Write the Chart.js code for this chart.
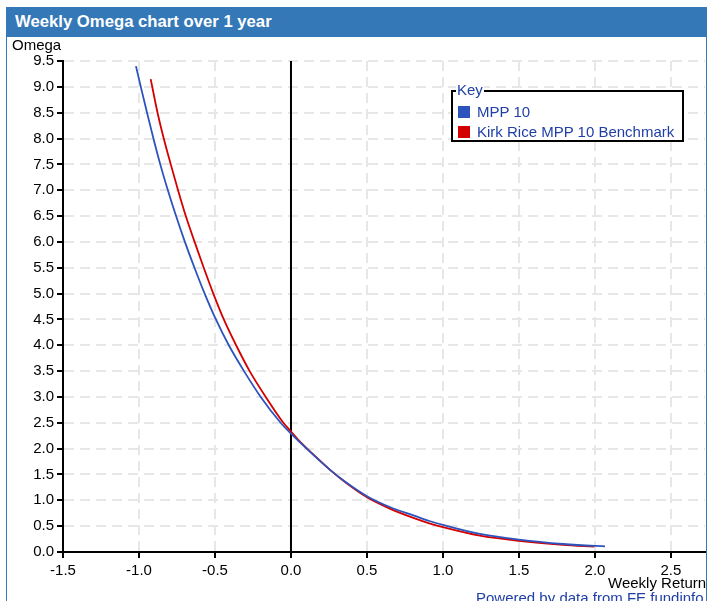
<!DOCTYPE html>
<html>
<head>
<meta charset="utf-8">
<script src="https://cdn.jsdelivr.net/npm/chart.js@4.4.0/dist/chart.umd.min.js"></script>
<style>
    body { margin: 0; background: #fff; width: 715px; height: 601px; overflow: hidden; position: relative; font-family: "Liberation Sans", Arial, sans-serif; }
    #frame { position: absolute; left: 6px; top: 7px; width: 699px; height: 600px; border: 1px solid #3478b7; overflow: hidden; }
    #titlebar { position: absolute; left: 0; top: 0; width: 699px; height: 29px; background: #3478b7; color: #fff; font-weight: bold; font-size: 16.7px; line-height: 28px; padding-left: 8px; box-sizing: border-box; }
    #omegaChart { position: absolute; left: 0; top: 29px; }
    .lbl { position: absolute; font-size: 15px; line-height: 16px; color: #000; white-space: nowrap; }
    #powered { color: #1f3fa6; }
    #key { position: absolute; left: 444px; top: 82px; width: 233px; height: 52px; border: 2px solid #000; box-sizing: border-box; background: #fff; }
    #key .cap { position: absolute; left: 3px; top: -10px; background: #fff; padding: 0 1px; font-size: 15px; line-height: 16px; color: #1f3fa6; }
    #key .row { position: absolute; left: 5px; font-size: 15px; line-height: 16px; color: #1f3fa6; white-space: nowrap; }
    #key .sw { display: inline-block; width: 12px; height: 12px; margin-right: 7px; vertical-align: -1px; }
</style>
</head>
<body>
<div id="frame">
    <div id="titlebar">Weekly Omega chart over 1 year</div>
    <canvas id="omegaChart" width="699" height="564"></canvas>
    <div class="lbl" style="left:5px;top:29px;">Omega</div>
    <div class="lbl" style="left:601px;top:567px;">Weekly Return</div>
    <div class="lbl" id="powered" style="left:469px;top:582px;">Powered by data from FE fundinfo</div>
    <div id="key"><span class="cap">Key</span></div>
</div>
<script>
const seriesNames = ['MPP 10', 'Kirk Rice MPP 10 Benchmark'];
const seriesColors = ['#2d54bd', '#d40000'];

// MPP 10 (weekly return %, omega)
const mppX = [-1.02, -0.988, -0.947, -0.905, -0.86, -0.81, -0.756, -0.698, -0.635, -0.568, -0.494, -0.409, -0.309, -0.199, -0.068, 0, 0.147, 0.257, 0.366, 0.5, 0.65, 0.805, 0.91, 1.0, 1.243, 1.5, 1.79, 2.0, 2.066];
const mppY = [9.40, 9.0, 8.5, 8.0, 7.5, 7.0, 6.5, 6.0, 5.5, 5.0, 4.5, 4.0, 3.5, 3.0, 2.5, 2.29, 1.88, 1.59, 1.34, 1.08, 0.87, 0.71, 0.60, 0.525, 0.35, 0.24, 0.155, 0.117, 0.11];

// Kirk Rice MPP 10 Benchmark
const benchX = [-0.923, -0.878, -0.837, -0.791, -0.743, -0.692, -0.634, -0.574, -0.511, -0.442, -0.361, -0.272, -0.166, -0.05, 0, 0.048, 0.15, 0.257, 0.366, 0.5, 0.65, 0.805, 0.91, 1.0, 1.243, 1.5, 1.79, 1.995];
const benchY = [9.15, 8.5, 8.0, 7.5, 7.0, 6.5, 6.0, 5.5, 5.0, 4.5, 4.0, 3.5, 3.0, 2.5, 2.33, 2.17, 1.88, 1.59, 1.33, 1.06, 0.84, 0.66, 0.555, 0.48, 0.315, 0.215, 0.14, 0.105];

const xTicks = [-1.5, -1.0, -0.5, 0.0, 0.5, 1.0, 1.5, 2.0, 2.5];
const yTicks = [0.0, 0.5, 1.0, 1.5, 2.0, 2.5, 3.0, 3.5, 4.0, 4.5, 5.0, 5.5, 6.0, 6.5, 7.0, 7.5, 8.0, 8.5, 9.0, 9.5];

function toPoints(xs, ys) {
    return xs.map((x, i) => ({x: x, y: ys[i]}));
}

// solid black line at zero return, under the curves
const zeroLine = {
    id: 'zeroLine',
    beforeDatasetsDraw(chart) {
        const ctx = chart.ctx;
        const x = chart.scales.x.getPixelForValue(0);
        ctx.save();
        ctx.strokeStyle = '#000';
        ctx.lineWidth = 2;
        ctx.beginPath();
        ctx.moveTo(x, chart.chartArea.top);
        ctx.lineTo(x, chart.chartArea.bottom);
        ctx.stroke();
        ctx.restore();
    }
};

const tickFont = {family: '"Liberation Sans", Arial, sans-serif', size: 15};

const chart = new Chart(document.getElementById('omegaChart'), {
    type: 'scatter',
    data: {
        datasets: [
            {label: seriesNames[0], data: toPoints(mppX, mppY), borderColor: seriesColors[0], backgroundColor: seriesColors[0]},
            {label: seriesNames[1], data: toPoints(benchX, benchY), borderColor: seriesColors[1], backgroundColor: seriesColors[1]}
        ]
    },
    options: {
        responsive: false,
        animation: false,
        layout: {padding: {top: 24, right: 1, left: 0, bottom: 0}},
        elements: {
            point: {radius: 0, hoverRadius: 0},
            line: {borderWidth: 1.8, cubicInterpolationMode: 'monotone'}
        },
        datasets: {scatter: {showLine: true}},
        plugins: {legend: {display: false}, tooltip: {enabled: false}},
        scales: {
            x: {
                type: 'linear',
                min: -1.5,
                max: 2.724,
                afterBuildTicks: function(scale) {
                    scale.ticks = xTicks.map(v => ({value: v}));
                },
                afterFit: function(scale) { scale.height = 49; },
                ticks: {
                    color: '#000',
                    font: tickFont,
                    padding: 4,
                    maxRotation: 0,
                    autoSkip: false,
                    callback: v => v.toFixed(1)
                },
                grid: {color: '#e7e7e7', lineWidth: 2, tickColor: '#000', tickLength: 6, tickWidth: 2, tickBorderDash: []},
                border: {color: '#000', width: 2, dash: [10, 6]}
            },
            y: {
                type: 'linear',
                min: 0,
                max: 9.5,
                afterBuildTicks: function(scale) {
                    scale.ticks = yTicks.map(v => ({value: v}));
                },
                afterFit: function(scale) { scale.width = 56; },
                ticks: {
                    color: '#000',
                    font: tickFont,
                    padding: 3,
                    autoSkip: false,
                    callback: v => v.toFixed(1)
                },
                grid: {color: '#e7e7e7', lineWidth: 2, tickColor: '#000', tickLength: 6, tickWidth: 2, tickBorderDash: []},
                border: {color: '#000', width: 2, dash: [10, 6]}
            }
        }
    },
    plugins: [zeroLine]
});

// "Key" box built from the chart's datasets
const key = document.getElementById('key');
chart.data.datasets.forEach(function(ds, i) {
    const row = document.createElement('div');
    row.className = 'row';
    row.style.top = (12 + i * 20) + 'px';
    row.innerHTML = '<span class="sw" style="background:' + ds.borderColor + '"></span>' + ds.label;
    key.appendChild(row);
});
</script>
</body>
</html>
